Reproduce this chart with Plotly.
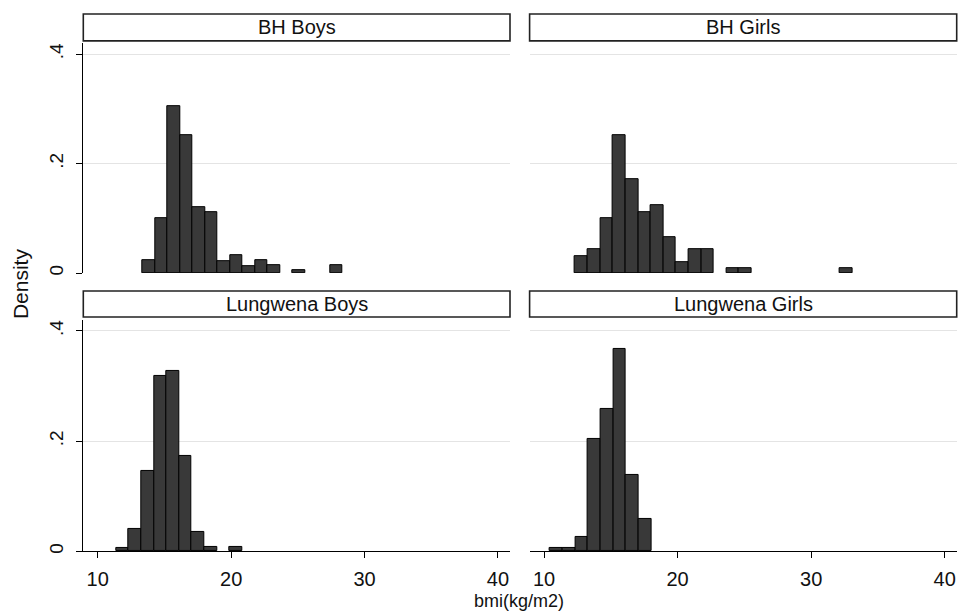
import plotly.graph_objects as go

W, H = 958, 613

# ---- data (density histograms of BMI) ----
panels = ["BH Boys", "BH Girls", "Lungwena Boys", "Lungwena Girls"]

bh_boys_start = 13.37
bh_boys_width = 0.937
bh_boys_density = [0.023, 0.101, 0.305, 0.252, 0.121, 0.111, 0.022, 0.033,
                   0.012, 0.023, 0.014, 0.0, 0.006, 0.0, 0.0, 0.014]

bh_girls_start = 12.32
bh_girls_width = 0.945
bh_girls_density = [0.031, 0.044, 0.101, 0.252, 0.172, 0.112, 0.124, 0.066,
                    0.020, 0.044, 0.044, 0.0, 0.009, 0.009, 0.0, 0.0, 0.0,
                    0.0, 0.0, 0.0, 0.0, 0.009]

lw_boys_start = 11.37
lw_boys_width = 0.945
lw_boys_density = [0.006, 0.041, 0.146, 0.318, 0.327, 0.173, 0.035, 0.007,
                   0.0, 0.007]

lw_girls_start = 10.45
lw_girls_width = 0.946
lw_girls_density = [0.006, 0.006, 0.025, 0.203, 0.259, 0.367, 0.138, 0.058]

x_ticks = [10, 20, 30, 40]
x_ticktext = ["10", "20", "30", "40"]
y_ticks = [0, 0.2, 0.4]
y_ticktext = ["0", ".2", ".4"]

series = [
    (bh_boys_start, bh_boys_width, bh_boys_density),
    (bh_girls_start, bh_girls_width, bh_girls_density),
    (lw_boys_start, lw_boys_width, lw_boys_density),
    (lw_girls_start, lw_girls_width, lw_girls_density),
]

# ---- layout geometry (pixels) ----
col_px = [(83.3, 510.0), (529.6, 956.7)]
row_px = [(43.3, 274.0), (321.0, 553.0)]
strip_px = [(14.0, 41.0), (292.0, 318.0)]

def px_x(v):
    return v / W

def px_y(v):
    return 1 - v / H

FONT = "Liberation Sans, Arial, Helvetica, sans-serif"
BAR_FILL = "#393939"
GRID = "#e4e4e4"

fig = go.Figure()
layout = dict(
    width=W, height=H, autosize=False,
    margin=dict(l=0, r=0, t=0, b=0),
    paper_bgcolor="white", plot_bgcolor="white",
    showlegend=False, bargap=0,
    font=dict(family=FONT, color="black"),
)
shapes, annotations = [], []

for i, (name, (start, width, dens)) in enumerate(zip(panels, series)):
    r, c = divmod(i, 2)
    n = i + 1
    xa = "x" if n == 1 else f"x{n}"
    ya = "y" if n == 1 else f"y{n}"
    centers = [start + width * (k + 0.5) for k in range(len(dens))]
    xs = [cx for cx, d in zip(centers, dens) if d > 0]
    ys = [d for d in dens if d > 0]
    fig.add_trace(go.Bar(
        x=xs, y=ys, width=width, xaxis=xa, yaxis=ya,
        marker=dict(color=BAR_FILL, line=dict(color="black", width=1)),
        hoverinfo="x+y",
    ))
    x0, x1 = col_px[c]
    y0, y1 = row_px[r]
    xkey = "xaxis" if n == 1 else f"xaxis{n}"
    ykey = "yaxis" if n == 1 else f"yaxis{n}"
    bottom = (r == 1)
    left = (c == 0)
    layout[xkey] = dict(
        domain=[px_x(x0), px_x(x1)], anchor=ya, range=[8.92, 40.9],
        tickvals=x_ticks, ticktext=x_ticktext,
        showticklabels=bottom, ticks="outside" if bottom else "",
        ticklen=6, tickwidth=1.2, tickcolor="black",
        showline=bottom, linecolor="black", linewidth=1.3,
        showgrid=False, zeroline=False,
        tickfont=dict(size=20, family=FONT, color="#111"),
        ticklabelstandoff=4,
    )
    layout[ykey] = dict(
        domain=[px_y(y1), px_y(y0)], anchor=xa, range=[0, 0.42],
        tickvals=y_ticks, ticktext=y_ticktext,
        showticklabels=left, ticks="outside" if left else "",
        ticklen=6, tickwidth=1.2, tickcolor="black",
        showline=left, linecolor="black", linewidth=1.3,
        showgrid=True, gridcolor=GRID, gridwidth=1, zeroline=False,
        tickangle=-90, tickfont=dict(size=19, family=FONT, color="#111"),
        ticklabelstandoff=6,
    )
    # strip header
    s0, s1 = strip_px[r]
    shapes.append(dict(
        type="rect", xref="paper", yref="paper",
        x0=px_x(x0), x1=px_x(x1), y0=px_y(s1), y1=px_y(s0),
        line=dict(color="#222", width=1.6), fillcolor="white", layer="above",
    ))
    annotations.append(dict(
        text=name, xref="paper", yref="paper",
        x=px_x((x0 + x1) / 2), y=px_y((s0 + s1) / 2),
        xanchor="center", yanchor="middle", showarrow=False,
        font=dict(size=20, family=FONT, color="#111"),
    ))

annotations.append(dict(
    text="Density", xref="paper", yref="paper",
    x=px_x(20), y=px_y(285), textangle=-90,
    xanchor="center", yanchor="middle", showarrow=False,
    font=dict(size=21, family=FONT, color="#111"),
))
annotations.append(dict(
    text="bmi(kg/m2)", xref="paper", yref="paper",
    x=px_x(519), y=px_y(603),
    xanchor="center", yanchor="middle", showarrow=False,
    font=dict(size=18, family=FONT, color="#111"),
))

layout["shapes"] = shapes
layout["annotations"] = annotations
fig.update_layout(**layout)
fig.write_html(
    "out.html",
    config={"displayModeBar": False},
    post_script="document.body.style.margin='0';document.body.style.overflow='hidden';",
)
